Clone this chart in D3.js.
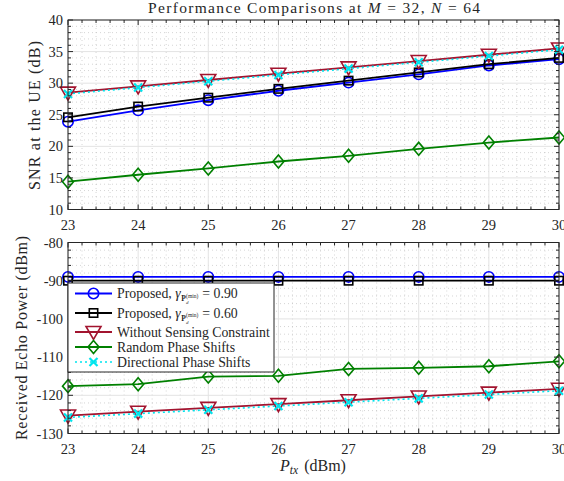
<!DOCTYPE html>
<html><head><meta charset="utf-8">
<script src="https://cdn.jsdelivr.net/npm/d3@7"></script>
<style>body{margin:0;background:#fff}svg{display:block}text{font-family:"Liberation Serif","Times New Roman",serif;fill:#262626}</style>
</head><body><svg id="c" width="564" height="481"></svg>
<script>
const ptx = [23,24,25,26,27,28,29,30];
const xTicks = [23,24,25,26,27,28,29,30];
const snrTicks = [10,15,20,25,30,35,40];
const echoTicks = [-130,-120,-110,-100,-90,-80];

const snrProp90 = [23.9,25.7,27.3,28.8,30.1,31.4,32.8,33.8];
const snrProp60 = [24.6,26.3,27.7,29.1,30.4,31.7,33.0,34.0];
const snrNoSense = [28.5,29.5,30.5,31.5,32.5,33.5,34.5,35.5];
const snrRandom = [14.4,15.5,16.5,17.6,18.5,19.6,20.6,21.4];
const snrDirect = [28.3,29.3,30.3,31.3,32.3,33.3,34.3,35.3];

const echoProp90 = [-89,-89,-89,-89,-89,-89,-89,-89];
const echoProp60 = [-90,-90,-90,-90,-90,-90,-90,-90];
const echoNoSense = [-125.3,-124.3,-123.3,-122.3,-121.3,-120.3,-119.3,-118.3];
const echoRandom = [-117.6,-117.1,-115.1,-114.9,-113.1,-112.8,-112.4,-111.1];
const echoDirect = [-125.8,-124.8,-123.8,-122.8,-121.8,-120.8,-119.8,-118.8];

const seriesNames = ["Proposed","Proposed","Without Sensing Constraint","Random Phase Shifts","Directional Phase Shifts"];
const gammaVals = ["0.90","0.60"];

const svg = d3.select("#c");
const L = 68, R = 559;
const x = d3.scaleLinear().domain([23,30]).range([L,R]);
const yT = d3.scaleLinear().domain([10,40]).range([209.5,20]);
const yB = d3.scaleLinear().domain([-130,-80]).range([433.5,242.5]);

const styles = [
  {c:"#0000FF", m:"circle", dash:null},
  {c:"#000000", m:"square", dash:null},
  {c:"#A2142F", m:"tri", dash:null},
  {c:"#008000", m:"diamond", dash:null},
  {c:"#00E5EE", m:"x", dash:"2,3"}
];

function marker(g, type, cx, cy, col){
  if(type==="circle") g.append("circle").attr("cx",cx).attr("cy",cy).attr("r",5.2).attr("fill","none").attr("stroke",col).attr("stroke-width",1.6);
  else if(type==="square") g.append("rect").attr("x",cx-4.2).attr("y",cy-4.2).attr("width",8.4).attr("height",8.4).attr("fill","none").attr("stroke",col).attr("stroke-width",1.6);
  else if(type==="tri") g.append("path").attr("d",`M${cx-7.5},${cy-5.5} L${cx+7.5},${cy-5.5} L${cx},${cy+7.5} Z`).attr("fill","none").attr("stroke",col).attr("stroke-width",1.6);
  else if(type==="diamond") g.append("path").attr("d",`M${cx},${cy-6.5} L${cx+5.5},${cy} L${cx},${cy+6.5} L${cx-5.5},${cy} Z`).attr("fill","none").attr("stroke",col).attr("stroke-width",1.6);
  else if(type==="x") g.append("path").attr("d",`M${cx-4},${cy-4} L${cx+4},${cy+4} M${cx+4},${cy-4} L${cx-4},${cy+4}`).attr("fill","none").attr("stroke",col).attr("stroke-width",2.2);
}

function panel(y, yticks, minorStep, data){
  const g = svg.append("g");
  const [y0,y1] = y.range();
  const xMinor = d3.range(23,30.001,0.2).filter(v=>Math.abs(v-Math.round(v))>1e-6);
  const d0 = y.domain();
  const yMinor = d3.range(d0[0],d0[1]+1e-6,minorStep).filter(v=>!yticks.some(t=>Math.abs(t-v)<1e-6));
  g.selectAll(".mx").data(xMinor).join("line").attr("x1",d=>x(d)).attr("x2",d=>x(d)).attr("y1",y1).attr("y2",y0).attr("stroke","#b8b8b8").attr("stroke-width",0.6).attr("stroke-dasharray","1,3");
  g.selectAll(".my").data(yMinor).join("line").attr("x1",L).attr("x2",R).attr("y1",d=>y(d)).attr("y2",d=>y(d)).attr("stroke","#b8b8b8").attr("stroke-width",0.6).attr("stroke-dasharray","1,3");
  g.selectAll(".gx").data(xTicks).join("line").attr("x1",d=>x(d)).attr("x2",d=>x(d)).attr("y1",y1).attr("y2",y0).attr("stroke","#e3e3e3").attr("stroke-width",1);
  g.selectAll(".gy").data(yticks).join("line").attr("x1",L).attr("x2",R).attr("y1",d=>y(d)).attr("y2",d=>y(d)).attr("stroke","#e3e3e3").attr("stroke-width",1);
  data.forEach((vals,i)=>{
    const s = styles[i];
    const line = d3.line().x((d,j)=>x(ptx[j])).y(d=>y(d));
    g.append("path").attr("d",line(vals)).attr("fill","none").attr("stroke",s.c).attr("stroke-width",s.dash?1.6:1.8).attr("stroke-dasharray",s.dash);
    vals.forEach((v,j)=>marker(g,s.m,x(ptx[j]),y(v),s.c));
  });
  const ax = svg.append("g");
  ax.append("rect").attr("x",L).attr("y",y1).attr("width",R-L).attr("height",y0-y1).attr("fill","none").attr("stroke","#262626").attr("stroke-width",1);
  const tick = (x1,y1_,x2,y2)=>ax.append("line").attr("x1",x1).attr("y1",y1_).attr("x2",x2).attr("y2",y2).attr("stroke","#262626").attr("stroke-width",1);
  xTicks.forEach(t=>{tick(x(t),y0,x(t),y0-5);tick(x(t),y1,x(t),y1+5);});
  xMinor.forEach(t=>{tick(x(t),y0,x(t),y0-3);tick(x(t),y1,x(t),y1+3);});
  yticks.forEach(t=>{tick(L,y(t),L+5,y(t));tick(R,y(t),R-5,y(t));});
  yMinor.forEach(t=>{tick(L,y(t),L+3,y(t));tick(R,y(t),R-3,y(t));});
  ax.selectAll(".xl").data(xTicks).join("text").attr("x",d=>x(d)).attr("y",y0+20).attr("text-anchor","middle").attr("font-size",14.5).text(d=>d);
  ax.selectAll(".yl").data(yticks).join("text").attr("x",L-5).attr("y",d=>y(d)+5).attr("text-anchor","end").attr("font-size",14.5).text(d=>d<0?"-"+Math.abs(d):d);
  return g;
}

panel(yT, snrTicks, 1, [snrProp90,snrProp60,snrNoSense,snrRandom,snrDirect]);
panel(yB, echoTicks, 2, [echoProp90,echoProp60,echoNoSense,echoRandom,echoDirect]);

// title
const t = svg.append("text").attr("x",148).attr("y",13).attr("font-size",15.5)
  .attr("textLength",332).attr("lengthAdjust","spacing");
t.append("tspan").text("Performance Comparisons at ");
t.append("tspan").attr("font-style","italic").text("M");
t.append("tspan").text(" = 32, ");
t.append("tspan").attr("font-style","italic").text("N");
t.append("tspan").text(" = 64");

// y labels
svg.append("text").attr("transform","translate(40,190) rotate(-90)").attr("font-size",16)
  .attr("textLength",149).attr("lengthAdjust","spacing").text("SNR at the UE (dB)");
svg.append("text").attr("transform","translate(27,440) rotate(-90)").attr("font-size",16)
  .attr("textLength",204).attr("lengthAdjust","spacing").text("Received Echo Power (dBm)");

// x label
const xl = svg.append("text").attr("x",313).attr("y",471).attr("text-anchor","middle").attr("font-size",16);
xl.append("tspan").attr("font-style","italic").text("P");
xl.append("tspan").attr("font-style","italic").attr("font-size",11.5).attr("dy",3).text("tx");
xl.append("tspan").attr("dy",-3).attr("dx",2).text(" (dBm)");

// legend
const lg = svg.append("g");
lg.append("rect").attr("x",68).attr("y",283).attr("width",206).attr("height",89).attr("fill","#fff").attr("stroke","#262626").attr("stroke-width",1);
const rowY = [293.5,313,332,347,362];
const FS = 13.8;
styles.forEach((s,i)=>{
  const yy = rowY[i];
  lg.append("line").attr("x1",75).attr("x2",112).attr("y1",yy).attr("y2",yy).attr("stroke",s.c).attr("stroke-width",s.dash?1.6:1.8).attr("stroke-dasharray",s.dash);
  marker(lg,s.m,93.5,yy,s.c);
  const by = yy+4.5;
  if(i<2){
    const a = lg.append("text").attr("x",117).attr("y",by).attr("font-size",FS);
    a.append("tspan").text(seriesNames[i]+", ");
    a.append("tspan").attr("font-style","italic").text("γ");
    let cx = 117 + a.node().getComputedTextLength() + 0.5;
    const p = lg.append("text").attr("x",cx).attr("y",by+3).attr("font-size",7.5).attr("font-weight","bold").text("P");
    cx += p.node().getComputedTextLength() + 0.3;
    const mn = lg.append("text").attr("x",cx).attr("y",by-0.5).attr("font-size",5.5).text("(min)");
    lg.append("text").attr("x",cx).attr("y",by+6).attr("font-size",5).attr("font-style","italic").text("d");
    cx += mn.node().getComputedTextLength() + 4;
    lg.append("text").attr("x",cx).attr("y",by).attr("font-size",FS).text("= "+gammaVals[i]);
  } else {
    lg.append("text").attr("x",117).attr("y",by).attr("font-size",FS).text(seriesNames[i]);
  }
});
</script></body></html>
